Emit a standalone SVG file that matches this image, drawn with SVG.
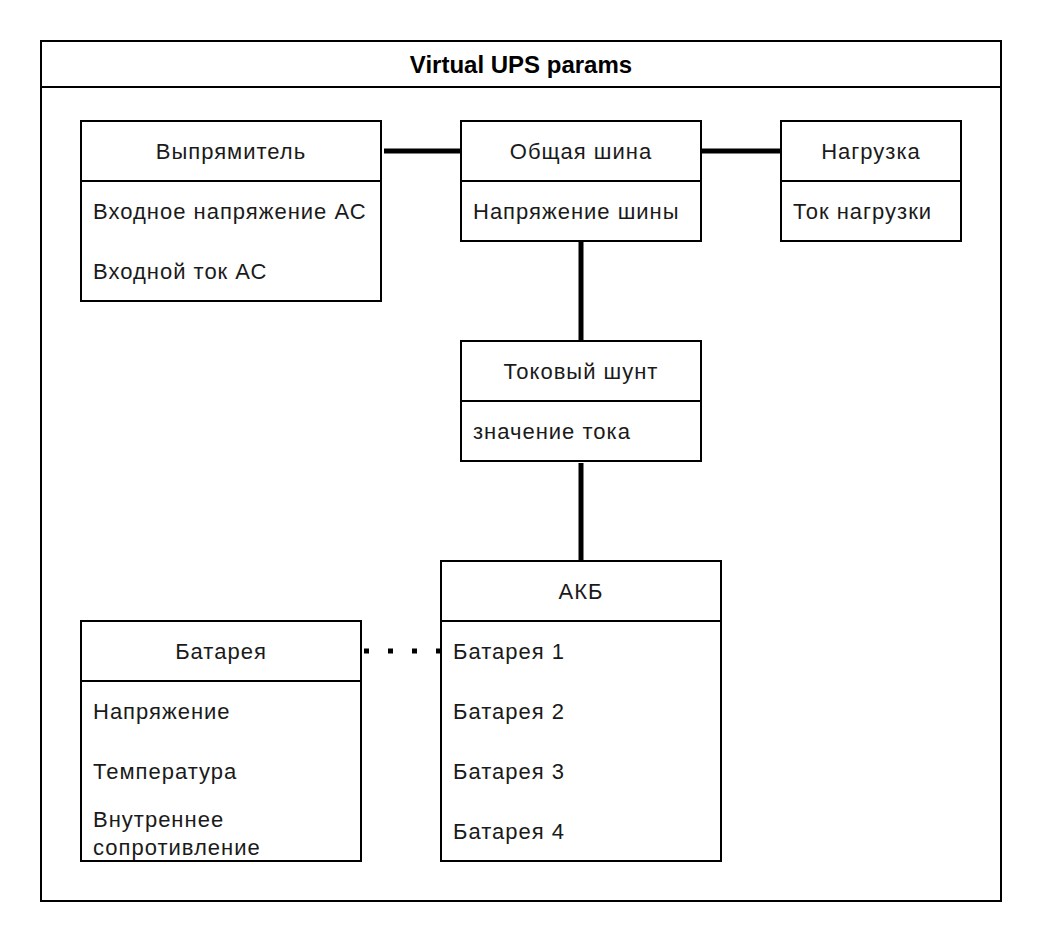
<svg xmlns="http://www.w3.org/2000/svg" width="1042" height="942" viewBox="0 0 1042 942">
<style>
.box{fill:#fff;stroke:#000;stroke-width:2}
.sep{stroke:#000;stroke-width:2}
.t{font-family:"Liberation Sans",Arial,sans-serif;font-size:22px;letter-spacing:1px;fill:#1a1a1a}
.h{text-anchor:middle}
.title{font-family:"Liberation Sans",Arial,sans-serif;font-size:24px;font-weight:bold;text-anchor:middle;fill:#000}
.conn{stroke:#000;stroke-width:5;fill:none}
.dot{stroke:#000;stroke-width:5;fill:none;stroke-dasharray:5 19}
</style>
<rect width="1042" height="942" fill="#fff"/>
<g id="container">
<rect class="box" x="41" y="41" width="960" height="860"/>
<line class="sep" x1="41" y1="87" x2="1001" y2="87"/>
<text class="title" x="521" y="73">Virtual UPS params</text>
</g>
<g id="connectors">
<line class="conn" x1="384" y1="151" x2="461" y2="151"/>
<line class="conn" x1="701" y1="151" x2="781" y2="151"/>
<line class="conn" x1="581" y1="241" x2="581" y2="341"/>
<line class="conn" x1="581" y1="463" x2="581" y2="561"/>
<line class="dot" x1="364" y1="651" x2="441" y2="651"/>
</g>
<g id="rectifier">
<rect class="box" x="81" y="121" width="300" height="180"/>
<line class="sep" x1="81" y1="181" x2="381" y2="181"/>
<text class="t h" x="231" y="159">Выпрямитель</text>
<text class="t" x="93" y="219">Входное напряжение АС</text>
<text class="t" x="93" y="279">Входной ток АС</text>
</g>
<g id="bus">
<rect class="box" x="461" y="121" width="240" height="120"/>
<line class="sep" x1="461" y1="181" x2="701" y2="181"/>
<text class="t h" x="581" y="159">Общая шина</text>
<text class="t" x="473" y="219">Напряжение шины</text>
</g>
<g id="load">
<rect class="box" x="781" y="121" width="180" height="120"/>
<line class="sep" x1="781" y1="181" x2="961" y2="181"/>
<text class="t h" x="871" y="159">Нагрузка</text>
<text class="t" x="793" y="219">Ток нагрузки</text>
</g>
<g id="shunt">
<rect class="box" x="461" y="341" width="240" height="120"/>
<line class="sep" x1="461" y1="401" x2="701" y2="401"/>
<text class="t h" x="581" y="379">Токовый шунт</text>
<text class="t" x="473" y="439">значение тока</text>
</g>
<g id="akb">
<rect class="box" x="441" y="561" width="280" height="300"/>
<line class="sep" x1="441" y1="621" x2="721" y2="621"/>
<text class="t h" x="581" y="599">АКБ</text>
<text class="t" x="453" y="659">Батарея 1</text>
<text class="t" x="453" y="719">Батарея 2</text>
<text class="t" x="453" y="779">Батарея 3</text>
<text class="t" x="453" y="839">Батарея 4</text>
</g>
<g id="battery">
<rect class="box" x="81" y="621" width="280" height="240"/>
<line class="sep" x1="81" y1="681" x2="361" y2="681"/>
<text class="t h" x="221" y="659">Батарея</text>
<text class="t" x="93" y="719">Напряжение</text>
<text class="t" x="93" y="779">Температура</text>
<text class="t" x="93" y="827">Внутреннее</text>
<text class="t" x="93" y="855">сопротивление</text>
</g>
</svg>
